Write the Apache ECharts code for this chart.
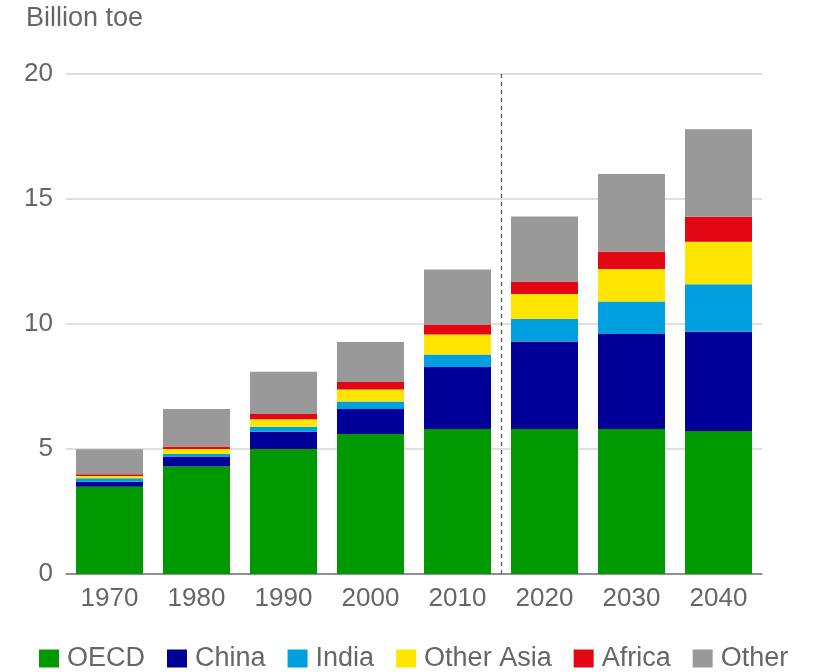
<!DOCTYPE html>
<html>
<head>
<meta charset="utf-8">
<script src="https://cdn.jsdelivr.net/npm/echarts@6/dist/echarts.min.js"></script>
<style>
  html, body { margin: 0; padding: 0; background: #fff; }
  #chart-container { width: 816px; height: 672px; }
</style>
</head>
<body>
<div id="chart-container"></div>
<script>
// 類別與各地區數據 (Billion toe)
var years = ['1970', '1980', '1990', '2000', '2010', '2020', '2030', '2040'];
var oecd = [3.49, 4.3, 5.0, 5.6, 5.8, 5.8, 5.8, 5.72];
var china = [0.2, 0.4, 0.69, 1.0, 2.48, 3.5, 3.8, 3.97];
var india = [0.14, 0.1, 0.2, 0.3, 0.5, 0.9, 1.3, 1.9];
var otherAsia = [0.09, 0.2, 0.3, 0.48, 0.8, 1.0, 1.3, 1.7];
var africa = [0.07, 0.1, 0.21, 0.3, 0.4, 0.5, 0.7, 1.0];
var other = [1.0, 1.5, 1.69, 1.6, 2.2, 2.6, 3.1, 3.5];
var yTicks = [0, 5, 10, 15, 20];

var FONT = "'Liberation Sans', Arial, sans-serif";
var chart = echarts.init(document.getElementById('chart-container'));

function barSeries(name, data, color) {
    return {
        name: name,
        type: 'bar',
        stack: 'total',
        data: data,
        barCategoryGap: '23%',
        itemStyle: { color: color },
        emphasis: { disabled: true }
    };
}

var option = {
    animation: false,
    grid: {
        left: 66,
        right: 54,
        top: 74,
        bottom: 98
    },
    title: { // 單位
        text: 'Billion toe',
        left: 26,
        top: 5,
        padding: 0,
        textStyle: { fontFamily: FONT, fontSize: 27, fontWeight: 'normal', color: '#666' }
    },
    legend: {
        top: 645,
        left: 39,
        itemWidth: 20,
        itemHeight: 18,
        itemGap: 22,
        padding: 0,
        icon: 'rect',
        textStyle: { fontFamily: FONT, fontSize: 27, color: '#666', padding: [0, 0, 0, 3] },
        data: ['OECD', 'China', 'India', 'Other Asia', 'Africa', 'Other']
    },
    xAxis: [{
        type: 'category',
        data: years,
        axisLine: { lineStyle: { color: '#777', width: 1.5 } },
        axisTick: { alignWithLabel: true, length: 6, lineStyle: { color: '#777', width: 1.5 } },
        axisLabel: { fontFamily: FONT, fontSize: 26, color: '#666', margin: 12 }
    }, {
        // 隱藏的數值軸，用來畫預測分隔虛線
        type: 'value',
        min: 0,
        max: years.length,
        show: false
    }],
    yAxis: {
        type: 'value',
        min: 0,
        max: 20,
        interval: 5,
        axisLine: { show: false },
        axisTick: { show: false },
        splitLine: { lineStyle: { color: '#d4d4d4', width: 1.5 } },
        axisLabel: {
            fontFamily: FONT, fontSize: 26, color: '#666', margin: 13,
            formatter: function (v) { return yTicks.indexOf(v) >= 0 ? String(v) : ''; }
        }
    },
    series: [
        barSeries('OECD', oecd, '#009900'),
        barSeries('China', china, '#000099'),
        barSeries('India', india, '#009fe0'),
        barSeries('Other Asia', otherAsia, '#ffe500'),
        barSeries('Africa', africa, '#e30613'),
        barSeries('Other', other, '#999999'),
        {
            type: 'line',
            xAxisIndex: 1,
            data: [],
            markLine: {
                silent: true,
                symbol: 'none',
                label: { show: false },
                lineStyle: { color: '#555', type: [4, 4], width: 1.2 },
                data: [{ xAxis: 5 }]
            }
        }
    ]
};

chart.setOption(option);
</script>
</body>
</html>
